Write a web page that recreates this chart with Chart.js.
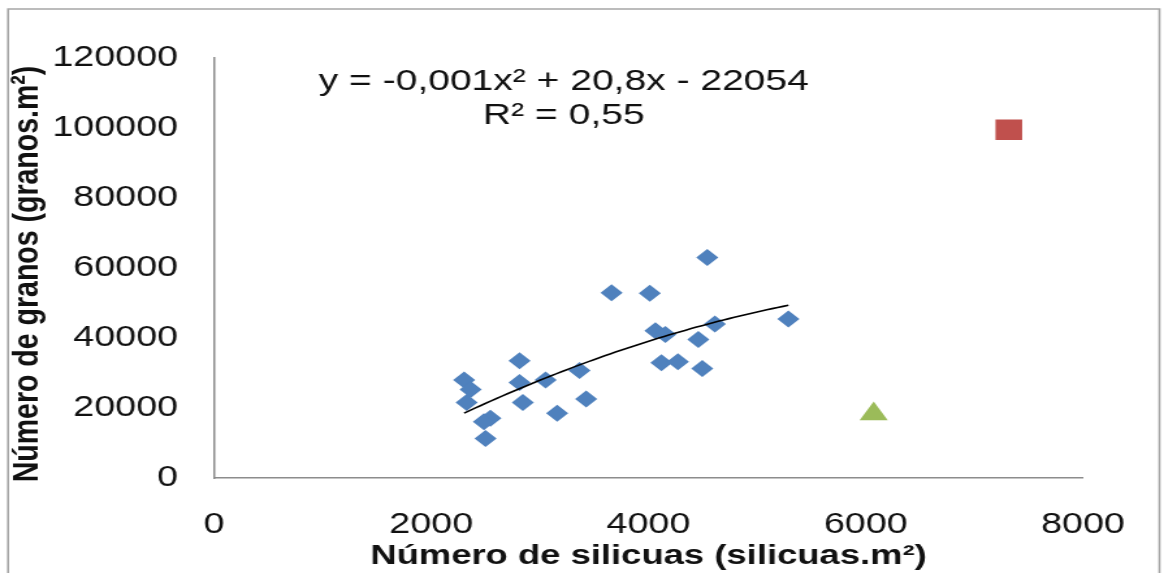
<!DOCTYPE html>
<html>
<head>
<meta charset="utf-8">
<script src="https://cdn.jsdelivr.net/npm/chart.js@4.4.1/dist/chart.umd.min.js"></script>
<style>
  html, body { margin: 0; padding: 0; background: #fff; overflow: hidden; }
  /* the figure is laid out at 895px and widened to the 1164px page */
  #frame { width: 895px; height: 573px; transform: scaleX(1.30056); transform-origin: 0 0; }
  canvas { display: block; }
</style>
</head>
<body>
<div id="frame"><canvas id="chart" width="895" height="573"></canvas></div>
<script>
// Main series: silicuas per m² (x) and granos per m² (y)
const silicuas = [2303, 2363, 2326, 2813, 2813, 2843, 3053, 3365, 3426, 3159, 2545, 2485,
                  2500, 3660, 4012, 4064, 4155, 4119, 4271, 4459, 4495, 4541, 4611, 5288];
const granos   = [28000, 25300, 21600, 33500, 27300, 21600, 28000, 30700, 22600, 18500, 17100, 16100,
                  11300, 52900, 52800, 42100, 41000, 32900, 33200, 39600, 31300, 63000, 44000, 45400];

// Two separate treatments
const squareX = [7317];
const squareY = [99500];
const triangleX = [6073];
const triangleY = [18300];

// Axis ticks
const xTicks = [0, 2000, 4000, 6000, 8000];
const yTicks = [0, 20000, 40000, 60000, 80000, 100000, 120000];

// Quadratic trend y = a·x² + b·x + c (the label shows a rounded to -0,001)
const trendA = -0.00138;
const trendB = 20.8;
const trendC = -22054;
const equationLines = ['y = -0,001x\u00B2 + 20,8x - 22054', 'R\u00B2 = 0,55'];

const xTitle = 'Número de silicuas (silicuas.m\u00B2)';
const yTitle = 'Número de granos (granos.m\u00B2)';

const FONT = '"Liberation Sans", Arial, sans-serif';

const pts = (xs, ys) => xs.map((x, i) => ({ x, y: ys[i] }));

// trend curve across the range of the main series
const trendPoints = (() => {
  const lo = Math.min(...silicuas), hi = Math.max(...silicuas), n = 60, out = [];
  for (let i = 0; i <= n; i++) {
    const x = lo + (hi - lo) * i / n;
    out.push({ x, y: trendA * x * x + trendB * x + trendC });
  }
  return out;
})();

// white page with a thin grey frame
const framePlugin = {
  id: 'frame',
  beforeDraw(chart) {
    const ctx = chart.ctx;
    ctx.save();
    ctx.fillStyle = '#fff';
    ctx.fillRect(0, 0, chart.width, chart.height);
    ctx.strokeStyle = '#a6a6a6';
    ctx.lineWidth = 1.6;
    ctx.beginPath();
    ctx.moveTo(6.2, chart.height + 5);
    ctx.lineTo(6.2, 9);
    ctx.lineTo(891.5, 9);
    ctx.lineTo(891.5, chart.height + 5);
    ctx.stroke();
    ctx.restore();
  }
};

// regression equation, R² text and the vertical axis title
const textPlugin = {
  id: 'texts',
  afterDraw(chart) {
    const { ctx, scales, chartArea } = chart;
    const cx = scales.x.getPixelForValue(3220);
    const y1 = scales.y.getPixelForValue(110900);
    ctx.save();
    ctx.fillStyle = '#111';
    ctx.font = '30px ' + FONT;
    ctx.textAlign = 'center';
    ctx.textBaseline = 'alphabetic';
    ctx.fillText(equationLines[0], cx, y1);
    ctx.fillText(equationLines[1], cx, y1 + 34);

    ctx.font = 'bold 28.5px ' + FONT;
    ctx.textBaseline = 'middle';
    ctx.translate(21.2, (chartArea.top + chartArea.bottom) / 2 + 6);
    ctx.rotate(-Math.PI / 2);
    ctx.fillText(yTitle, 0, 0);
    ctx.restore();
  }
};

new Chart(document.getElementById('chart'), {
  type: 'scatter',
  data: {
    datasets: [
      {
        type: 'line',
        data: trendPoints,
        borderColor: '#000',
        borderWidth: 1.6,
        pointRadius: 0,
        fill: false,
        tension: 0,
        order: 0
      },
      {
        data: pts(silicuas, granos),
        pointStyle: 'rectRot',
        pointRadius: 8.5,
        backgroundColor: '#4F81BD',
        borderColor: '#4F81BD',
        borderWidth: 0,
        order: 1
      },
      {
        data: pts(squareX, squareY),
        pointStyle: 'rect',
        pointRadius: 14.5,
        backgroundColor: '#C0504D',
        borderColor: '#C0504D',
        borderWidth: 0,
        order: 1
      },
      {
        data: pts(triangleX, triangleY),
        pointStyle: 'triangle',
        pointRadius: 12.5,
        backgroundColor: '#9BBB59',
        borderColor: '#9BBB59',
        borderWidth: 0,
        order: 1
      }
    ]
  },
  options: {
    responsive: false,
    devicePixelRatio: 1,
    animation: false,
    events: [],
    layout: { padding: { left: 0, top: 58, right: 55.4, bottom: 0 } },
    plugins: { legend: { display: false }, tooltip: { enabled: false } },
    scales: {
      x: {
        type: 'linear',
        min: xTicks[0],
        max: xTicks[xTicks.length - 1],
        afterBuildTicks: s => { s.ticks = xTicks.map(v => ({ value: v })); },
        afterFit: s => { s.height = 95; },
        grid: { display: false, drawTicks: false },
        border: { display: true, color: '#8c8c8c', width: 1.5 },
        ticks: {
          padding: 30,
          color: '#111',
          font: { family: FONT, size: 29 },
          callback: v => String(v)
        },
        title: {
          display: true,
          text: xTitle,
          color: '#111',
          font: { family: FONT, size: 28, weight: 'bold' },
          padding: { top: 0, bottom: 0 }
        }
      },
      y: {
        type: 'linear',
        min: yTicks[0],
        max: yTicks[yTicks.length - 1],
        afterBuildTicks: s => { s.ticks = yTicks.map(v => ({ value: v })); },
        afterFit: s => { s.width = 164.5; },
        grid: { display: false, drawTicks: false },
        border: { display: true, color: '#8c8c8c', width: 1.5 },
        ticks: {
          padding: 27.6,
          color: '#111',
          font: { family: FONT, size: 29 },
          callback: v => String(v)
        },
        title: { display: false }
      }
    }
  },
  plugins: [framePlugin, textPlugin]
});
</script>
</body>
</html>
